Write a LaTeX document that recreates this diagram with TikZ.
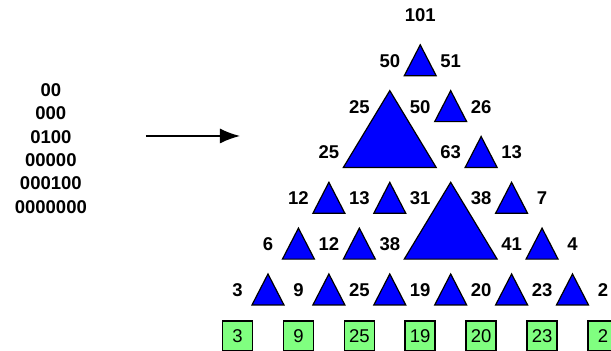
\documentclass[tikz,border=0pt]{standalone}
\usepackage{fontspec}
\setmainfont{Liberation Sans}
\usetikzlibrary{arrows.meta}

\tikzset{
  numlabel/.style={inner sep=0pt, font=\bfseries\fontsize{18.5}{20}\selectfont},
  valbox/.style={draw=black, fill=green!50, line width=1.5pt, minimum size=30pt, inner sep=0pt, font=\fontsize{18.5}{20}\selectfont},
  bluetri/.style={draw=black, fill=blue, line width=1.2pt, line join=miter},
  bitrows/.style={align=center, inner sep=0pt, font=\bfseries\fontsize{18.5}{23.4}\selectfont},
  maparrow/.style={line width=1.6pt, -{Latex[length=20pt,width=15pt]}}
}

% small and double-size triangles, apex cell (col,row)
\newcommand{\smalltri}[2]{\draw[bluetri] (#1-0.525,#2+0.327) -- (#1,#2-0.349) -- (#1+0.525,#2+0.327) -- cycle;}
\newcommand{\doubletri}[2]{\draw[bluetri] (#1-1.525,#2+1.327) -- (#1,#2-0.349) -- (#1+1.525,#2+1.327) -- cycle;}

\begin{document}
\begin{tikzpicture}[x=30.45pt, y=-45.83pt]
\useasboundingbox (-13.8,-0.327) rectangle (6.264,7.331);
\clip (-13.8,-0.327) rectangle (6.264,7.331);

% input rows and arrow
\node[bitrows] (bits) at (-12.13,2.913) {00\\000\\0100\\00000\\000100\\0000000};
\coordinate (arrowstart) at (-9.007,2.64);
\coordinate (arrowend) at (-5.919,2.64);
\draw[maparrow] (arrowstart) -- (arrowend);

% triangles
\smalltri{0}{1}
\doubletri{-1}{2}
\smalltri{1}{2}
\smalltri{2}{3}
\smalltri{-3}{4}
\smalltri{-1}{4}
\doubletri{1}{4}
\smalltri{3}{4}
\smalltri{-4}{5}
\smalltri{-2}{5}
\smalltri{4}{5}
\smalltri{-5}{6}
\smalltri{-3}{6}
\smalltri{-1}{6}
\smalltri{1}{6}
\smalltri{3}{6}
\smalltri{5}{6}

% numbers
\node[numlabel] (n00) at (0,0) {101};

\node[numlabel] (n10) at (-1,1) {50};
\node[numlabel] (n11) at (1,1) {51};

\node[numlabel] (n20) at (-2,2) {25};
\node[numlabel] (n21) at (0,2) {50};
\node[numlabel] (n22) at (2,2) {26};

\node[numlabel] (n30) at (-3,3) {25};
\node[numlabel] (n32) at (1,3) {63};
\node[numlabel] (n33) at (3,3) {13};

\node[numlabel] (n40) at (-4,4) {12};
\node[numlabel] (n41) at (-2,4) {13};
\node[numlabel] (n42) at (0,4) {31};
\node[numlabel] (n43) at (2,4) {38};
\node[numlabel] (n44) at (4,4) {7};

\node[numlabel] (n50) at (-5,5) {6};
\node[numlabel] (n51) at (-3,5) {12};
\node[numlabel] (n52) at (-1,5) {38};
\node[numlabel] (n54) at (3,5) {41};
\node[numlabel] (n55) at (5,5) {4};

\node[numlabel] (n60) at (-6,6) {3};
\node[numlabel] (n61) at (-4,6) {9};
\node[numlabel] (n62) at (-2,6) {25};
\node[numlabel] (n63) at (0,6) {19};
\node[numlabel] (n64) at (2,6) {20};
\node[numlabel] (n65) at (4,6) {23};
\node[numlabel] (n66) at (6,6) {2};

% result boxes
\node[valbox] (v0) at (-6,7) {3};
\node[valbox] (v1) at (-4,7) {9};
\node[valbox] (v2) at (-2,7) {25};
\node[valbox] (v3) at (0,7) {19};
\node[valbox] (v4) at (2,7) {20};
\node[valbox] (v5) at (4,7) {23};
\node[valbox] (v6) at (6,7) {2};
\end{tikzpicture}
\end{document}
